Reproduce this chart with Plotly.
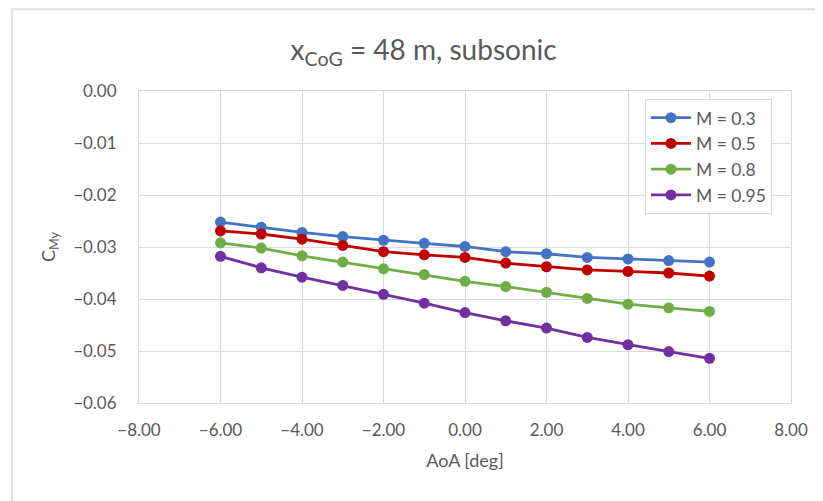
import plotly.graph_objects as go

aoa = [-6, -5, -4, -3, -2, -1, 0, 1, 2, 3, 4, 5, 6]
cmy_m03 = [-0.0252, -0.0262, -0.0272, -0.0280, -0.0287, -0.0293, -0.0299, -0.0309, -0.0313, -0.0320, -0.0323, -0.0326, -0.0329]
cmy_m05 = [-0.0269, -0.0275, -0.0285, -0.0297, -0.0309, -0.0315, -0.0320, -0.0331, -0.0338, -0.0344, -0.0347, -0.0350, -0.0356]
cmy_m08 = [-0.0292, -0.0302, -0.0317, -0.0329, -0.0342, -0.0353, -0.0366, -0.0376, -0.0387, -0.0399, -0.0410, -0.0417, -0.0424]
cmy_m095 = [-0.0318, -0.0340, -0.0358, -0.0374, -0.0391, -0.0408, -0.0426, -0.0442, -0.0456, -0.0474, -0.0488, -0.0501, -0.0514]
series_names = ["M = 0.3", "M = 0.5", "M = 0.8", "M = 0.95"]
colors = ["#4472C4", "#C00000", "#70AD47", "#7030A0"]

FONT = "Lato, 'Open Sans', sans-serif"
TXT = "#595959"
GRID = "#D9D9D9"

fig = go.Figure()
for name, ys, c in zip(series_names, [cmy_m03, cmy_m05, cmy_m08, cmy_m095], colors):
    fig.add_trace(go.Scatter(
        x=aoa, y=ys, name=name, mode="lines+markers",
        line=dict(color=c, width=2.8),
        marker=dict(color=c, size=11),
    ))

fig.update_layout(
    width=823, height=501,
    paper_bgcolor="white", plot_bgcolor="white",
    margin=dict(l=131, r=40, t=83, b=106, autoexpand=False),
    font=dict(family=FONT, color=TXT, size=16),
    title=dict(text="x<sub>CoG</sub> = 48 m, subsonic", x=0.505, xanchor="center",
               y=0.915, yanchor="middle", font=dict(size=28, color=TXT, family=FONT)),
    showlegend=True,
    legend=dict(x=0.776, y=0.975, xanchor="left", yanchor="top",
                bordercolor=GRID, borderwidth=1, bgcolor="white",
                font=dict(size=17.5, color=TXT, family=FONT),
                tracegroupgap=0, itemwidth=40),
    xaxis=dict(range=[-8, 8], dtick=2, tick0=-8, tickformat=".2f",
               showgrid=True, gridcolor=GRID, gridwidth=1,
               zeroline=False, showline=True, linecolor=GRID, mirror=True,
               ticks="outside", ticklen=12, tickcolor="rgba(0,0,0,0)",
               tickfont=dict(size=17, color=TXT),
               title=dict(text="AoA [deg]", font=dict(size=18, color=TXT), standoff=14)),
    yaxis=dict(range=[-0.06, 0.0], dtick=0.01, tickformat=".2f",
               showgrid=True, gridcolor=GRID, gridwidth=1,
               zeroline=False, showline=True, linecolor=GRID, mirror=True,
               ticks="outside", ticklen=18, tickcolor="rgba(0,0,0,0)",
               tickfont=dict(size=17, color=TXT),
               title=dict(text="C<sub>My</sub>", font=dict(size=18, color=TXT), standoff=12)),
    shapes=[dict(type="rect", xref="paper", yref="paper",
                 x0=-0.195, x1=1.2, y0=-0.5, y1=1.262,
                 line=dict(color="#E0E0E0", width=2), fillcolor="rgba(0,0,0,0)", layer="below")],
)

fig.write_html("out.html")
